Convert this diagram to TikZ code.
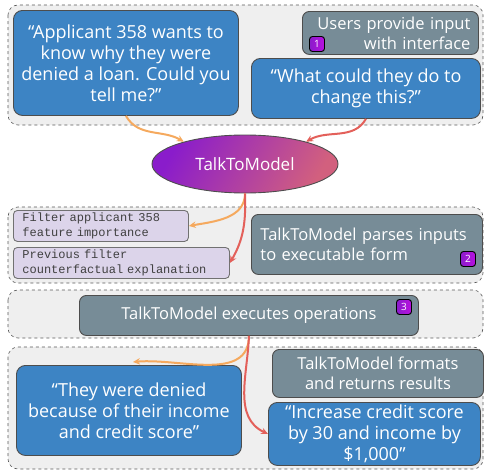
\documentclass[tikz,border=0pt]{standalone}
\usepackage{fontspec}
\setmainfont{Open Sans}
\setmonofont{Liberation Mono}
\usetikzlibrary{shapes.geometric, positioning, arrows.meta}

\definecolor{askblue}{HTML}{3D84C4}
\definecolor{stepgray}{HTML}{778C97}
\definecolor{oplilac}{HTML}{DCD4EA}
\definecolor{panelgray}{HTML}{EFEFEF}
\definecolor{edgedark}{HTML}{4D4D4D}
\definecolor{arrorange}{HTML}{F5A95E}
\definecolor{arrred}{HTML}{E3605A}
\definecolor{tmpurple}{HTML}{8A1CCB}
\definecolor{tmpink}{HTML}{D2607E}

\begin{document}
\begin{tikzpicture}[x=1pt,y=-1pt,font=\fontsize{16.5}{20}\selectfont,line width=0.9pt]

	\tikzset{panel/.style={draw=gray!70!black, dashed, line width=0.6pt,
			fill=panelgray, rounded corners=10pt}}
	\tikzset{node ask/.style={draw=edgedark, fill=askblue, text=white,
			rounded corners=9pt, align=center, anchor=north west, inner sep=2pt,
			font=\fontsize{18}{21}\selectfont}}
	\tikzset{node step/.style={draw=edgedark, fill=stepgray, text=white,
			rounded corners=7pt, anchor=north west, inner sep=2pt}}
	\tikzset{node op/.style={draw=edgedark!80, fill=oplilac, text=black!75,
			rounded corners=4pt, align=left, anchor=north west, inner sep=2pt,
			font=\ttfamily\fontsize{12}{15}\selectfont}}
	\tikzset{badge/.style={draw=black, left color=tmpurple, right color=tmpurple!60!magenta,
			text=white, rounded corners=3pt, minimum size=15pt, inner sep=0pt,
			font=\fontsize{10}{10}\selectfont}}
	\tikzset{arr a/.style={-{Stealth[length=7pt,width=6.5pt]}, draw=arrorange, line width=2pt}}
	\tikzset{arr b/.style={-{Stealth[length=7pt,width=6.5pt]}, draw=arrred, line width=2pt}}

	\useasboundingbox (0,0) rectangle (485,471);

	% panels
	\draw[panel] (8,5) rectangle (483,125);
	\draw[panel] (8,207) rectangle (483,283);
	\draw[panel] (8,290) rectangle (483,338);
	\draw[panel] (8,347) rectangle (483,469);

	% step 1: user input
	\node[node ask, minimum width=225pt, minimum height=105pt] (q1) at (13,10)
		{``Applicant 358 wants to\\know why they were\\denied a loan. Could you\\tell me?''};
	\node[node step, align=right, text width=160pt, minimum height=43pt, inner xsep=8pt] (s1) at (302,11)
		{Users provide input\\with interface};
	\node[node ask, minimum width=229pt, minimum height=60pt] (q2) at (251,58)
		{``What could they do to\\change this?''};
	\node[badge] (b1) at (317,44) {1};

	% model
	\node[ellipse, draw=edgedark, text=white, minimum width=186pt, minimum height=58pt,
		left color=tmpurple, right color=tmpink, shading angle=60,
		font=\fontsize{17}{20}\selectfont] (tm) at (245,164) {TalkToModel};

	% step 2: parse
	\node[node op, text width=157pt, minimum height=31pt, inner xsep=9pt] (f1) at (13,210)
		{Filter applicant 358\\feature importance};
	\node[node op, text width=198pt, minimum height=31pt, inner xsep=9pt] (f2) at (13,247)
		{Previous filter\\counterfactual explanation};
	\node[node step, align=left, text width=213pt, minimum height=60pt, inner xsep=9pt] (s2) at (251,214)
		{TalkToModel parses inputs\\to executable form};
	\node[badge] (b2) at (468,259) {2};

	% step 3: execute
	\node[node step, minimum width=339pt, minimum height=40pt] (s3) at (79,295)
		{TalkToModel executes operations};
	\node[badge] (b3) at (404,307) {3};

	% step 4: results
	\node[node ask, minimum width=225pt, minimum height=90pt] (r1) at (16,365)
		{``They were denied\\because of their income\\and credit score''};
	\node[node step, align=center, minimum width=211pt, minimum height=48pt] (s4) at (272,349)
		{TalkToModel formats\\and returns results};
	\node[node ask, minimum width=212pt, minimum height=63pt] (r2) at (268,402)
		{``Increase credit score\\by 30 and income by\\\$1,000''};
	\coordinate (r1in) at (133,362);

	% flows
	\draw[arr a] (q1.south) to[out=-60, in=150] (tm.160);
	\draw[arr b] (q2.south) to[out=-120, in=30] (tm.20);
	\draw[arr a] (tm.south) to[out=-90, in=10] (f1.east);
	\draw[arr b] (tm.south) to[out=-88, in=60] (f2.east);
	\draw[arr a] (s3.south) to[out=-90, in=5] (r1in);
	\draw[arr b] (s3.south) to[out=-92, in=155] (r2.west);
\end{tikzpicture}
\end{document}
